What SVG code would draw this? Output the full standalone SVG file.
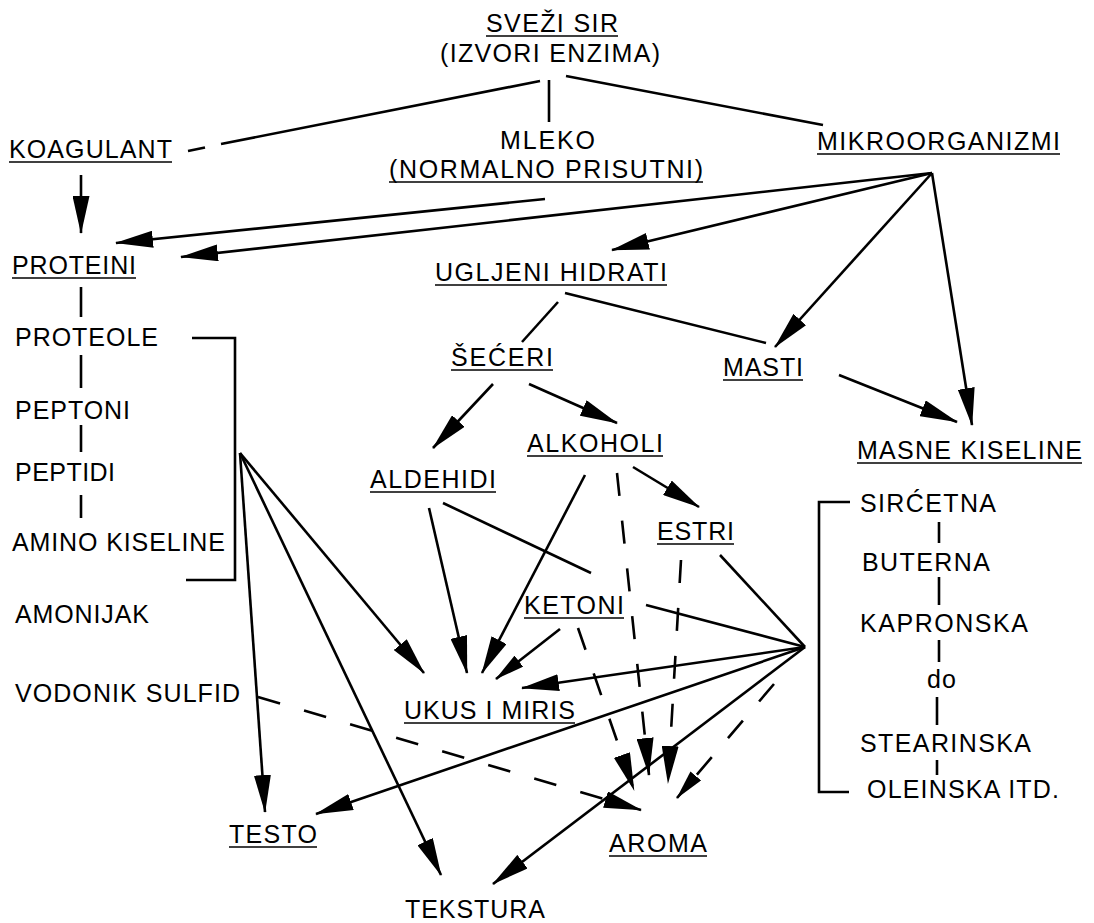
<svg xmlns="http://www.w3.org/2000/svg" width="1094" height="923" viewBox="0 0 1094 923">
<defs>
<style>
.t{font-family:"Liberation Sans",Arial,Helvetica,sans-serif;font-size:25px;fill:#000}
.u{stroke:#000;stroke-width:1.6;fill:none}
.c line,.c polyline{stroke:#000;stroke-width:2.6;fill:none}
.c .d{stroke-dasharray:23 25}
.c .a{marker-end:url(#ah)}
.c .m{marker-end:url(#ahm)}
</style>
<marker id="ah" viewBox="0 0 38 17" refX="37" refY="8.5" markerWidth="38" markerHeight="17" markerUnits="userSpaceOnUse" orient="auto"><path d="M0,0 L38,8.5 L0,17 Z" fill="#000"/></marker>
<marker id="ahm" viewBox="0 0 30 14" refX="29" refY="7" markerWidth="30" markerHeight="14" markerUnits="userSpaceOnUse" orient="auto"><path d="M0,0 L30,7 L0,14 Z" fill="#000"/></marker>
</defs>
<rect width="1094" height="923" fill="#fff"/>

<g id="svezi-sir"><text class="t" x="486" y="32" textLength="132" lengthAdjust="spacing">SVEŽI SIR</text><line class="u" x1="486" y1="36" x2="618" y2="36"/><text class="t" x="440" y="62" textLength="220" lengthAdjust="spacing">(IZVORI ENZIMA)</text></g>
<g id="koagulant"><text class="t" x="9" y="158" textLength="163" lengthAdjust="spacing">KOAGULANT</text><line class="u" x1="9" y1="162" x2="172" y2="162"/></g>
<g id="mleko"><text class="t" x="500" y="149" textLength="95" lengthAdjust="spacing">MLEKO</text><text class="t" x="389" y="178" textLength="314" lengthAdjust="spacing">(NORMALNO PRISUTNI)</text><line class="u" x1="389" y1="182" x2="703" y2="182"/></g>
<g id="mikroorganizmi"><text class="t" x="817" y="150" textLength="243" lengthAdjust="spacing">MIKROORGANIZMI</text><line class="u" x1="817" y1="154" x2="1060" y2="154"/></g>
<g id="proteini"><text class="t" x="12" y="274" textLength="124" lengthAdjust="spacing">PROTEINI</text><line class="u" x1="12" y1="278" x2="136" y2="278"/></g>
<g id="ugljeni-hidrati"><text class="t" x="435" y="281" textLength="232" lengthAdjust="spacing">UGLJENI HIDRATI</text><line class="u" x1="435" y1="285" x2="667" y2="285"/></g>
<g id="proteole"><text class="t" x="15" y="346" textLength="143" lengthAdjust="spacing">PROTEOLE</text></g>
<g id="peptoni"><text class="t" x="15" y="419" textLength="115" lengthAdjust="spacing">PEPTONI</text></g>
<g id="peptidi"><text class="t" x="15" y="481" textLength="100" lengthAdjust="spacing">PEPTIDI</text></g>
<g id="amino-kiseline"><text class="t" x="12" y="551" textLength="213" lengthAdjust="spacing">AMINO KISELINE</text></g>
<g id="amonijak"><text class="t" x="15" y="623" textLength="134" lengthAdjust="spacing">AMONIJAK</text></g>
<g id="vodonik-sulfid"><text class="t" x="15" y="702" textLength="225" lengthAdjust="spacing">VODONIK SULFID</text></g>
<g id="seceri"><text class="t" x="451" y="366" textLength="102" lengthAdjust="spacing">ŠEĆERI</text><line class="u" x1="451" y1="370" x2="553" y2="370"/></g>
<g id="masti"><text class="t" x="723" y="376" textLength="80" lengthAdjust="spacing">MASTI</text><line class="u" x1="723" y1="380" x2="803" y2="380"/></g>
<g id="alkoholi"><text class="t" x="527" y="452" textLength="136" lengthAdjust="spacing">ALKOHOLI</text><line class="u" x1="527" y1="456" x2="663" y2="456"/></g>
<g id="aldehidi"><text class="t" x="370" y="488" textLength="126" lengthAdjust="spacing">ALDEHIDI</text><line class="u" x1="370" y1="492" x2="496" y2="492"/></g>
<g id="masne-kiseline"><text class="t" x="857" y="459" textLength="225" lengthAdjust="spacing">MASNE KISELINE</text><line class="u" x1="857" y1="463" x2="1082" y2="463"/></g>
<g id="estri"><text class="t" x="657" y="540" textLength="77" lengthAdjust="spacing">ESTRI</text><line class="u" x1="657" y1="544" x2="734" y2="544"/></g>
<g id="ketoni"><text class="t" x="524" y="614" textLength="100" lengthAdjust="spacing">KETONI</text><line class="u" x1="524" y1="618" x2="624" y2="618"/></g>
<g id="kiseline-lista">
<text class="t" x="860" y="512" textLength="136" lengthAdjust="spacing">SIRĆETNA</text>
<text class="t" x="862" y="571" textLength="128" lengthAdjust="spacing">BUTERNA</text>
<text class="t" x="860" y="632" textLength="168" lengthAdjust="spacing">KAPRONSKA</text>
<text class="t" x="927" y="688" textLength="29" lengthAdjust="spacing">do</text>
<text class="t" x="860" y="752" textLength="171" lengthAdjust="spacing">STEARINSKA</text>
<text class="t" x="867" y="798" textLength="192" lengthAdjust="spacing">OLEINSKA ITD.</text>
</g>
<g id="ukus-i-miris"><text class="t" x="404" y="719" textLength="171" lengthAdjust="spacing">UKUS I MIRIS</text><line class="u" x1="404" y1="723" x2="575" y2="723"/></g>
<g id="testo"><text class="t" x="229" y="843" textLength="88" lengthAdjust="spacing">TESTO</text><line class="u" x1="229" y1="847" x2="317" y2="847"/></g>
<g id="aroma"><text class="t" x="609" y="852" textLength="98" lengthAdjust="spacing">AROMA</text><line class="u" x1="609" y1="856" x2="707" y2="856"/></g>
<g id="tekstura"><text class="t" x="405" y="918" textLength="140" lengthAdjust="spacing">TEKSTURA</text></g>

<g id="connectors" class="c">
<line x1="549" y1="80" x2="549" y2="122"/>
<line x1="540" y1="81" x2="221" y2="144"/>
<line x1="188" y1="151" x2="205" y2="147.5"/>
<line x1="566" y1="76" x2="823" y2="125"/>
<line x1="81" y1="287" x2="81" y2="317"/>
<line x1="81" y1="355" x2="81" y2="388"/>
<line x1="81" y1="425" x2="81" y2="452"/>
<line x1="81" y1="495" x2="81" y2="518"/>
<polyline points="192,338 235,338 235,580 186,580"/>
<polyline points="850,502 819,502 819,792 849,792"/>
<line x1="939" y1="522" x2="939" y2="543"/>
<line x1="939" y1="577" x2="939" y2="605"/>
<line x1="939" y1="640" x2="939" y2="662"/>
<line x1="937" y1="697" x2="937" y2="725"/>
<line x1="937" y1="760" x2="937" y2="775"/>
<line x1="558" y1="302" x2="522" y2="342"/>
<line x1="565" y1="293" x2="766" y2="343"/>
<line x1="443" y1="503" x2="591" y2="573"/>
<line x1="646" y1="605" x2="805" y2="647"/>
<line x1="720" y1="555" x2="805" y2="647"/>

<line class="a" x1="81" y1="175" x2="81" y2="233"/>
<line class="a" x1="545" y1="199" x2="116" y2="243"/>
<line class="a" x1="932" y1="173" x2="181" y2="257"/>
<line class="a" x1="932" y1="173" x2="612" y2="250"/>
<line class="a" x1="932" y1="173" x2="775" y2="347"/>
<line class="a" x1="932" y1="173" x2="972" y2="425"/>
<line class="a" x1="493" y1="384" x2="433" y2="448"/>
<line class="a" x1="529" y1="384" x2="617" y2="423"/>
<line class="a" x1="633" y1="467" x2="699" y2="507"/>
<line class="a" x1="839" y1="375" x2="957" y2="422"/>
<line class="a" x1="429" y1="508" x2="467" y2="673"/>
<line class="a" x1="585" y1="475" x2="482" y2="673"/>
<line class="m" x1="560" y1="629" x2="496" y2="679"/>
<line class="a" x1="240" y1="453" x2="424" y2="673"/>
<line class="a" x1="805" y1="647" x2="522" y2="688"/>
<line class="a" x1="240" y1="453" x2="265" y2="812"/>
<line class="a" x1="240" y1="453" x2="441" y2="875"/>
<line class="a" x1="805" y1="647" x2="316" y2="814"/>
<line class="a" x1="805" y1="647" x2="493" y2="884"/>

<line class="d a" x1="578" y1="628" x2="634" y2="790"/>
<line class="d a" x1="617" y1="473" x2="649" y2="775"/>
<line class="d a" x1="681" y1="560" x2="668" y2="783"/>
<line class="d m" x1="774" y1="684" x2="677" y2="798"/>
<line class="d a" x1="258" y1="697" x2="641" y2="810"/>
</g>
</svg>
